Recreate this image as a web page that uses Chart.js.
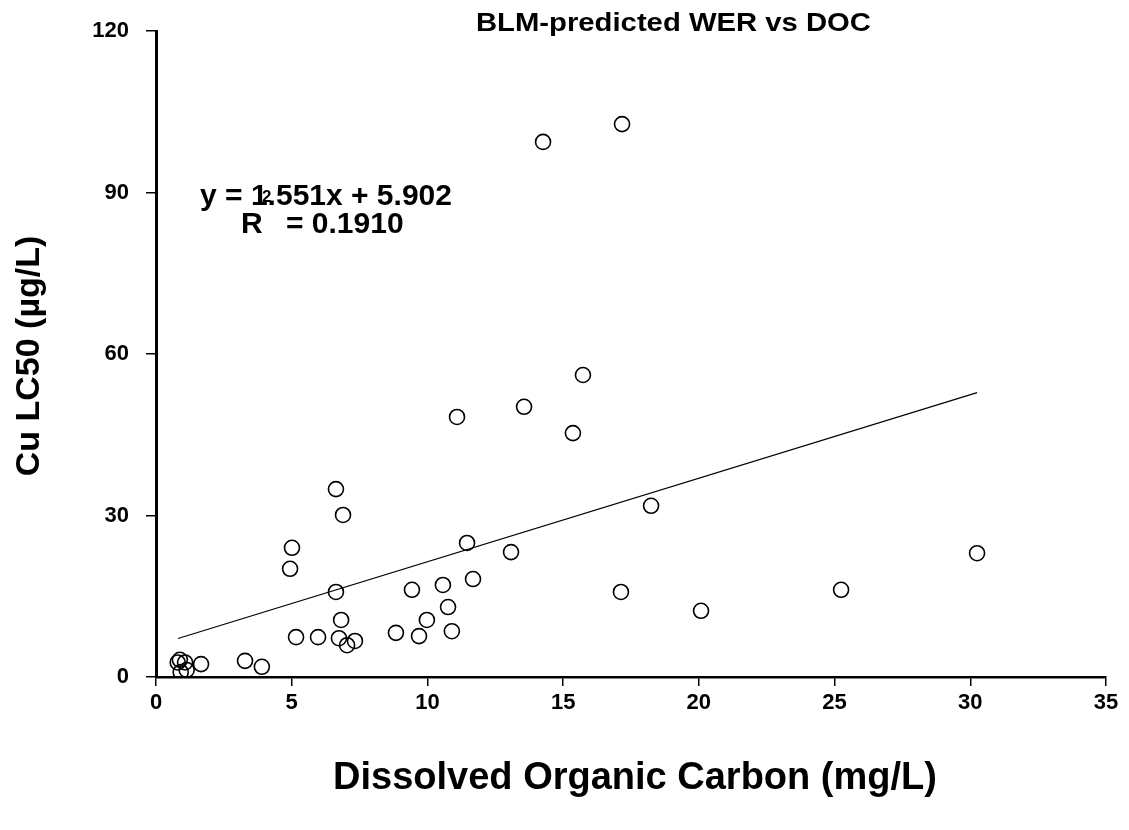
<!DOCTYPE html>
<html>
<head>
<meta charset="utf-8">
<script src="https://cdn.jsdelivr.net/npm/chart.js@4"></script>
<style>
  html, body { margin: 0; padding: 0; background: #fff; }
  #wrap { width: 1129px; height: 830px; position: relative; }
</style>
</head>
<body>
<div id="wrap"><canvas id="c" width="1129" height="830"></canvas></div>
<script>
const docValues = [14.26, 17.17, 15.73, 13.56, 11.09, 15.36, 6.63, 6.89, 18.24, 5.01, 4.94, 11.46, 13.08, 30.25, 6.63, 9.43, 10.57, 11.68, 17.13, 25.24, 10.76, 20.08, 6.82, 9.98, 5.16, 5.97, 6.74, 7.33, 7.04, 8.84, 9.69, 10.90, 3.28, 3.90, 1.66, 0.80, 1.07, 0.88, 0.91, 1.13];
const lc50Values = [99.4, 102.7, 56.1, 50.2, 48.3, 45.3, 34.9, 30.1, 31.8, 24.0, 20.1, 24.9, 23.2, 23.0, 15.8, 16.2, 17.1, 18.2, 15.8, 16.2, 13.0, 12.3, 10.6, 10.6, 7.4, 7.4, 7.2, 6.7, 5.9, 8.2, 7.6, 8.5, 3.0, 1.9, 2.4, 2.7, 2.7, 3.2, 0.9, 1.3];
const trendX = [0.81, 30.25];
const trendY = [7.16, 52.82];
const xTicks = [0, 5, 10, 15, 20, 25, 30, 35];
const yTicks = [0, 30, 60, 90, 120];
const chartTitle = 'BLM-predicted WER vs DOC';
const xTitle = 'Dissolved Organic Carbon (mg/L)';
const yTitle = 'Cu LC50 (\u00b5g/L)';
const eqLine1 = 'y = 1.551x + 5.902';
const eqR = 'R';
const eqSup = '2';
const eqLine2 = '= 0.1910';

const FONT = '"Liberation Sans", Arial, sans-serif';

const scatterData = docValues.map((x, i) => ({ x: x, y: lc50Values[i] }));
const trendData = trendX.map((x, i) => ({ x: x, y: trendY[i] }));

const textPlugin = {
  id: 'texts',
  afterDraw(chart) {
    const ctx = chart.ctx;
    ctx.save();
    ctx.fillStyle = '#000';
    ctx.textBaseline = 'alphabetic';
    // title (slightly wide face, as in the reference)
    ctx.save();
    ctx.font = 'bold 25px ' + FONT;
    ctx.textAlign = 'left';
    ctx.translate(476, 31);
    ctx.scale(1.17, 1);
    ctx.fillText(chartTitle, 0, 0);
    ctx.restore();
    // equation
    ctx.font = 'bold 30px ' + FONT;
    ctx.textAlign = 'center';
    ctx.fillText(eqLine1, 326, 205);
    ctx.textAlign = 'left';
    ctx.fillText(eqR, 241, 233);
    ctx.fillText(eqLine2, 286, 233);
    ctx.font = 'bold 17px ' + FONT;
    ctx.fillText(eqSup, 262, 202);
    // x title
    ctx.font = 'bold 38px ' + FONT;
    ctx.textAlign = 'center';
    ctx.fillText(xTitle, 635, 789);
    // y title
    ctx.translate(39, 356);
    ctx.rotate(-Math.PI / 2);
    ctx.font = 'bold 34px ' + FONT;
    ctx.fillText(yTitle, 0, 0);
    ctx.restore();
  }
};

new Chart(document.getElementById('c'), {
  type: 'scatter',
  data: {
    datasets: [
      {
        type: 'line',
        data: trendData,
        borderColor: '#000',
        borderWidth: 1.2,
        pointRadius: 0,
        fill: false,
        tension: 0
      },
      {
        data: scatterData,
        pointStyle: 'circle',
        pointRadius: 7.5,
        pointBorderWidth: 1.6,
        pointBorderColor: '#000',
        pointBackgroundColor: 'rgba(0,0,0,0)',
        showLine: false
      }
    ]
  },
  options: {
    responsive: false,
    animation: false,
    events: [],
    layout: { padding: { left: 0, top: 31, right: 23, bottom: 0 } },
    plugins: { legend: { display: false }, tooltip: { enabled: false }, title: { display: false } },
    scales: {
      x: {
        type: 'linear',
        min: 0, max: 35,
        afterBuildTicks(scale) { scale.ticks = xTicks.map(v => ({ value: v })); },
        afterFit(scale) { scale.height = 153; },
        border: { display: true, color: '#000', width: 2.5 },
        grid: { drawOnChartArea: false, drawTicks: true, tickLength: 9, color: '#000', lineWidth: 1.5 },
        ticks: { color: '#000', padding: 4, maxRotation: 0, font: { family: FONT, size: 22, weight: 'bold' } }
      },
      y: {
        type: 'linear',
        min: 0, max: 120,
        afterBuildTicks(scale) { scale.ticks = yTicks.map(v => ({ value: v })); },
        afterFit(scale) { scale.width = 156; },
        border: { display: true, color: '#000', width: 3 },
        grid: { drawOnChartArea: false, drawTicks: true, tickLength: 10, color: '#000', lineWidth: 1.5 },
        ticks: { color: '#000', padding: 17, font: { family: FONT, size: 22, weight: 'bold' } }
      }
    }
  },
  plugins: [textPlugin]
});
</script>
</body>
</html>
